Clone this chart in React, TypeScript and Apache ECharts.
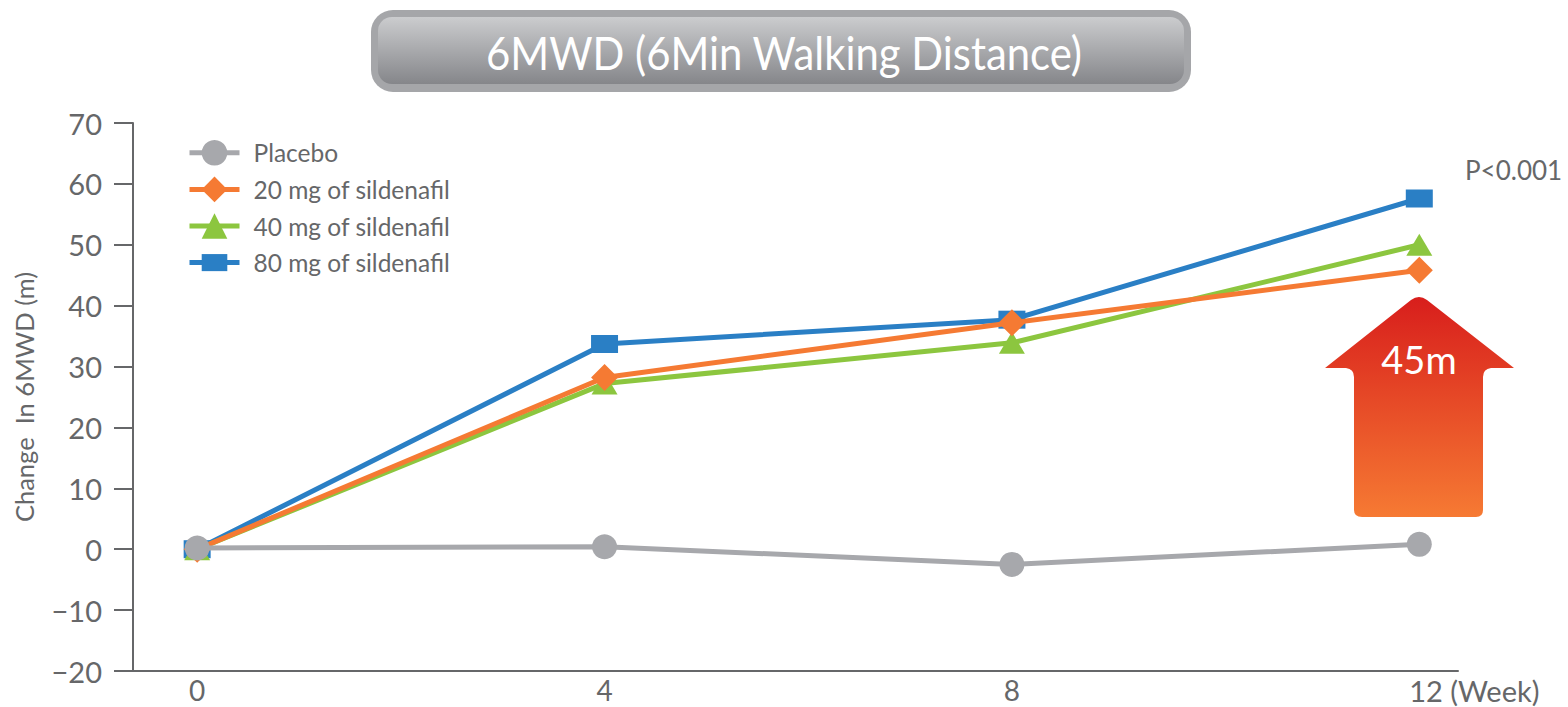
import React, { useEffect, useRef } from "react";
import * as echarts from "echarts";

const weeks = [0, 4, 8, 12];
const placebo = [0.2, 0.4, -2.5, 0.8];
const mg20 = [0, 28.2, 37.2, 45.8];
const mg40 = [0, 27.2, 33.9, 50];
const mg80 = [0, 33.7, 37.7, 57.6];
const seriesNames = ["Placebo", "20 mg of sildenafil", "40 mg of sildenafil", "80 mg of sildenafil"];
const yTicks = { min: -20, max: 70, interval: 10 };
const titleText = "6MWD (6Min Walking Distance)";
const yName = "Change  In 6MWD (m)";
const pText = "P<0.001";
const arrowText = "45m";

const FONT = "Lato, 'Noto Sans', sans-serif";
const GREY = "#666769";

const ARROW =
  "M94 0 Q98 0 102 3 L189 71 L166 71 Q158 72 158 80 L158 213 Q158 220 151 220 L37 220 Q29 220 29 213 L29 80 Q29 72 21 71 L0 71 L86 3 Q90 0 94 0 Z";
const SQUARE = "path://M0 -4.5L0 -4.5M0 0H27V18H0ZM27 22.5L27 22.5";

echarts.graphic.registerShape("upArrow", echarts.graphic.extendPath(ARROW, {}) as any);

const pairs = (vals: number[]) => vals.map((v, i) => [weeks[i], v]);

export default function App() {
  const ref = useRef<HTMLDivElement>(null);
  useEffect(() => {
    const chart = echarts.init(ref.current!, undefined, { renderer: "svg" });
    const line = (name: string, vals: number[], color: string, symbol: string, size: any, z: number, width = 5) => ({
      name,
      type: "line",
      data: pairs(vals),
      symbol,
      symbolSize: size,
      z,
      lineStyle: { color, width },
      itemStyle: { color },
    });
    chart.setOption({
      animation: false,
      backgroundColor: "#ffffff",
      grid: { left: 133, top: 123, width: 1325, height: 548, containLabel: false },
      legend: {
        left: 187,
        top: 140,
        padding: 0,
        orient: "vertical",
        itemWidth: 50,
        itemHeight: 32,
        itemGap: 11,
        selectedMode: false,
        data: seriesNames,
        lineStyle: { width: 5 },
        textStyle: { color: GREY, fontFamily: FONT, fontSize: 24.5, padding: [0, 0, 0, 9] },
      },
      xAxis: {
        type: "value",
        min: -0.63,
        max: 12.38,
        splitLine: { show: false },
        axisTick: { show: false },
        axisLine: { onZero: false, lineStyle: { color: GREY, width: 2 } },
        axisLabel: {
          customValues: weeks,
          margin: 5,
          color: GREY,
          fontFamily: FONT,
          fontSize: 28,
          formatter: (v: number) => (v === 12 ? "{w|12 (Week)}" : String(v)),
          rich: {
            w: { color: GREY, fontFamily: FONT, fontSize: 29, padding: [0, 0, 0, 110] },
          },
        },
      },
      yAxis: {
        type: "value",
        min: yTicks.min,
        max: yTicks.max,
        interval: yTicks.interval,
        name: yName,
        nameLocation: "middle",
        nameGap: 96,
        nameRotate: 90,
        nameTextStyle: { color: GREY, fontFamily: FONT, fontSize: 25.5 },
        splitLine: { show: false },
        axisTick: { show: true, length: 19, lineStyle: { color: GREY, width: 2 } },
        axisLine: { show: true, onZero: false, lineStyle: { color: GREY, width: 2 } },
        axisLabel: {
          margin: 31,
          color: GREY,
          fontFamily: FONT,
          fontSize: 29,
          formatter: (v: number) => (v < 0 ? "\u2212" + Math.abs(v) : String(v)),
        },
      },
      series: [
        line(seriesNames[0], placebo, "#a7a8ac", "circle", 25, 5),
        line(seriesNames[1], mg20, "#f57a33", "diamond", 27, 4),
        line(seriesNames[2], mg40, "#8cc63f", "triangle", [26, 22], 3),
        line(seriesNames[3], mg80, "#2a7fc5", SQUARE, 27, 2),
      ],
      graphic: [
        {
          type: "rect",
          shape: { x: 371, y: 10, width: 820, height: 82, r: 22 },
          style: { fill: "#a5a6a9" },
          z: 0,
        },
        {
          type: "rect",
          shape: { x: 378, y: 17, width: 806, height: 67, r: 14 },
          style: {
            fill: new echarts.graphic.LinearGradient(0, 0, 0, 1, [
              { offset: 0, color: "#cbccce" },
              { offset: 1, color: "#85868a" },
            ]),
          },
          z: 1,
        },
        {
          type: "text",
          x: 486,
          y: 52,
          scaleX: 0.91,
          z: 2,
          style: {
            text: titleText,
            fill: "#ffffff",
            fontFamily: FONT,
            fontSize: 46,
            textAlign: "left",
            textVerticalAlign: "middle",
          },
        },
        {
          type: "upArrow",
          x: 1325,
          y: 297,
          z: 1,
          style: {
            fill: new echarts.graphic.LinearGradient(0, 0, 0, 1, [
              { offset: 0, color: "#d81e1c" },
              { offset: 1, color: "#f67a33" },
            ]),
          },
        },
        {
          type: "text",
          x: 1419,
          y: 359,
          z: 2,
          style: {
            text: arrowText,
            fill: "#ffffff",
            fontFamily: FONT,
            fontSize: 38,
            textAlign: "center",
            textVerticalAlign: "middle",
          },
        },
        {
          type: "text",
          x: 1465,
          y: 170,
          z: 2,
          style: {
            text: pText,
            fill: GREY,
            fontFamily: FONT,
            fontSize: 26,
            textAlign: "left",
            textVerticalAlign: "middle",
          },
        },
      ],
    });
    return () => chart.dispose();
  }, []);
  return <div ref={ref} style={{ position: "absolute", left: 0, top: 0, width: 1568, height: 707 }} />;
}
